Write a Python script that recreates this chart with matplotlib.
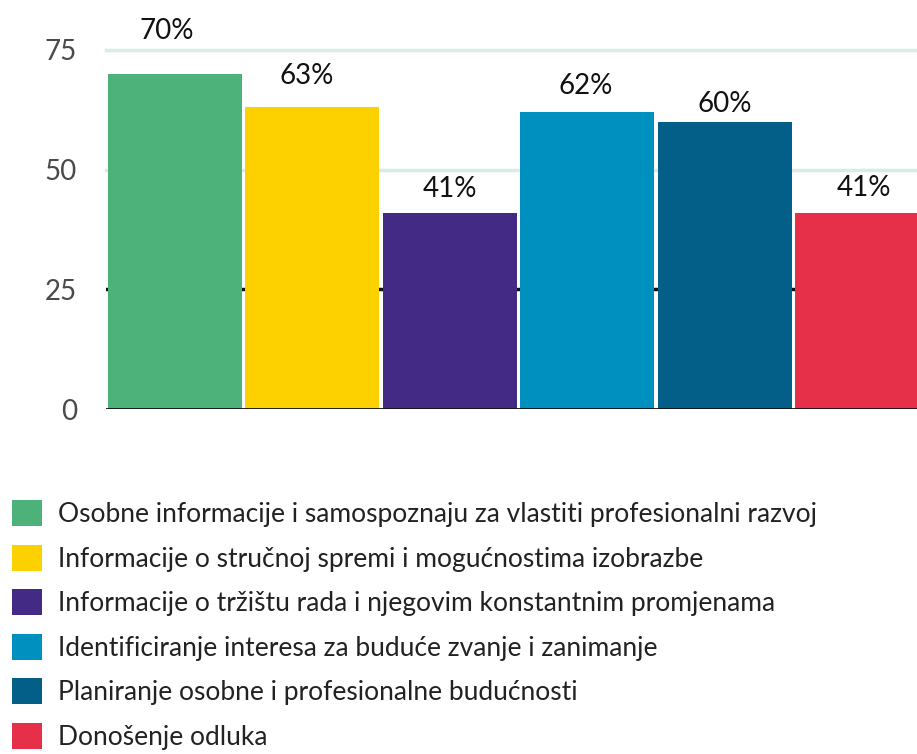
import matplotlib
matplotlib.use("Agg")
import matplotlib.pyplot as plt
from matplotlib.patches import Patch

plt.rcParams['font.family'] = ['Lato', 'DejaVu Sans']

categories = [
    "Osobne informacije i samospoznaju za vlastiti profesionalni razvoj",
    "Informacije o stručnoj spremi i mogućnostima izobrazbe",
    "Informacije o tržištu rada i njegovim konstantnim promjenama",
    "Identificiranje interesa za buduće zvanje i zanimanje",
    "Planiranje osobne i profesionalne budućnosti",
    "Donošenje odluka",
]
values = [70, 63, 41, 62, 60, 41]
value_labels = ["70%", "63%", "41%", "62%", "60%", "41%"]
yticks = [0, 25, 50, 75]
colors = ["#4CB27A", "#FDD000", "#432A85", "#0090C0", "#035F87", "#E6304A"]
# label placement offsets (points) as seen in the reference
label_dx = [-6, -4, 0, -1, 0, 1]
label_dy = [25, 17, 11.5, 13, 7, 12]

W, H = 917, 754
fig = plt.figure(figsize=(W / 100, H / 100), dpi=100)
ax = fig.add_axes([106 / W, 1 - 409 / H, 825 / W, 359 / H])

x = list(range(len(values)))
ax.bar(x, values, width=0.975, color=colors, zorder=3)

ax.set_xlim(-0.5, 5.5)
ax.set_ylim(0, 75)
ax.set_yticks(yticks)
ax.set_yticklabels([str(t) for t in yticks], fontsize=20, color="#4a4a4a")
ax.tick_params(axis="y", length=0, pad=21)
ax.set_xticks([])
for s in ax.spines.values():
    s.set_visible(False)

# gridlines
for t in yticks:
    if t == 0:
        ax.axhline(t, color="#111111", lw=2, zorder=4)
    elif t == 25:
        ax.axhline(t, color="#111111", lw=2.5, zorder=1)
    else:
        ax.axhline(t, color="#D6ECE5", lw=2.5, zorder=1, clip_on=False)

for xi, v, lab, dx, dy in zip(x, values, value_labels, label_dx, label_dy):
    ax.annotate(lab, (xi, v), xytext=(dx, dy), textcoords="offset points",
                ha="center", va="baseline", fontsize=20, color="#111111",
                annotation_clip=False)

handles = [Patch(facecolor=c, edgecolor="none") for c in colors]
fig.legend(handles, categories, loc="upper left",
           bbox_to_anchor=(4 / W, 1 - 492 / H), frameon=False,
           fontsize=19, handlelength=1.14, handleheight=1.14,
           handletextpad=0.6, labelspacing=0.67, borderaxespad=0,
           borderpad=0.3, labelcolor="#222222")

fig.savefig("out.png", dpi=100)
